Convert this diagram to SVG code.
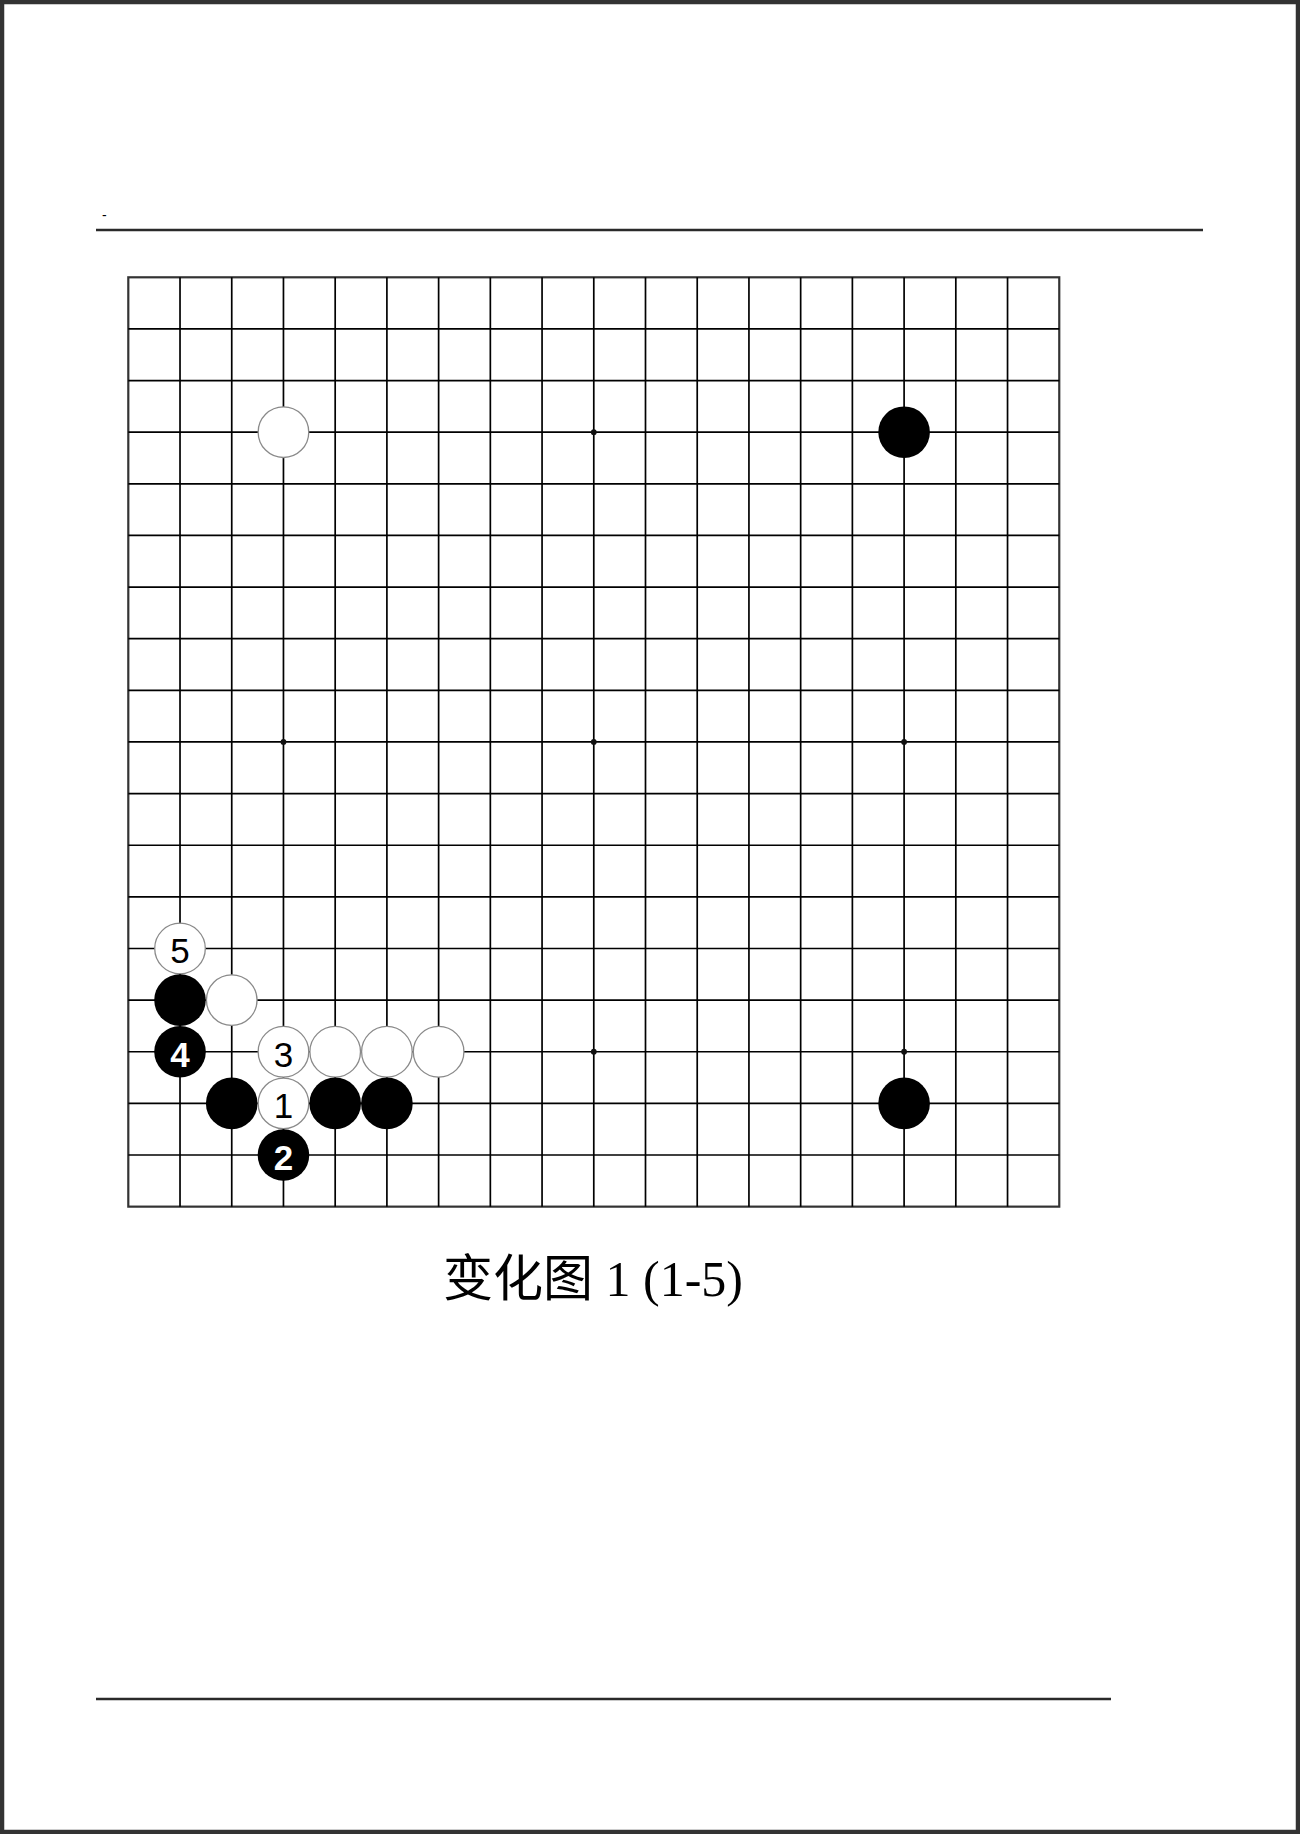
<svg xmlns="http://www.w3.org/2000/svg" width="1300" height="1834" viewBox="0 0 1300 1834">
<style>
.g{stroke:#000;stroke-width:1.7;fill:none}
.ob{stroke:#333;stroke-width:2.2;fill:none}
.star{fill:#111}
.b{fill:#000}
.w{fill:#fff;stroke:#8a8a8a;stroke-width:1.3}
.nw{font-family:"Liberation Sans",Arial,sans-serif;font-size:35px;fill:#000;text-anchor:middle}
.nb{font-family:"Liberation Sans",Arial,sans-serif;font-size:35px;font-weight:bold;fill:#fff;text-anchor:middle}
.rule{stroke:#2a2a2a;stroke-width:2.6}
</style>
<rect x="0" y="0" width="1300" height="1834" fill="#fff"/>
<rect x="2" y="2" width="1296" height="1830" fill="none" stroke="#333" stroke-width="4.5"/>
<text x="102" y="220" font-family="Liberation Sans,sans-serif" font-size="14" fill="#000">-</text>
<line class="rule" x1="96" y1="230" x2="1203" y2="230"/>
<line class="rule" x1="96" y1="1699" x2="1111" y2="1699"/>
<g id="board">
<rect class="ob" x="128.3" y="277.3" width="930.96" height="929.34"/>
<g class="g">
<line x1="180.02" y1="277.3" x2="180.02" y2="1206.64"/>
<line x1="231.74" y1="277.3" x2="231.74" y2="1206.64"/>
<line x1="283.46" y1="277.3" x2="283.46" y2="1206.64"/>
<line x1="335.18" y1="277.3" x2="335.18" y2="1206.64"/>
<line x1="386.9" y1="277.3" x2="386.9" y2="1206.64"/>
<line x1="438.62" y1="277.3" x2="438.62" y2="1206.64"/>
<line x1="490.34" y1="277.3" x2="490.34" y2="1206.64"/>
<line x1="542.06" y1="277.3" x2="542.06" y2="1206.64"/>
<line x1="593.78" y1="277.3" x2="593.78" y2="1206.64"/>
<line x1="645.5" y1="277.3" x2="645.5" y2="1206.64"/>
<line x1="697.22" y1="277.3" x2="697.22" y2="1206.64"/>
<line x1="748.94" y1="277.3" x2="748.94" y2="1206.64"/>
<line x1="800.66" y1="277.3" x2="800.66" y2="1206.64"/>
<line x1="852.38" y1="277.3" x2="852.38" y2="1206.64"/>
<line x1="904.1" y1="277.3" x2="904.1" y2="1206.64"/>
<line x1="955.82" y1="277.3" x2="955.82" y2="1206.64"/>
<line x1="1007.54" y1="277.3" x2="1007.54" y2="1206.64"/>
<line x1="128.3" y1="328.93" x2="1059.26" y2="328.93"/>
<line x1="128.3" y1="380.56" x2="1059.26" y2="380.56"/>
<line x1="128.3" y1="432.19" x2="1059.26" y2="432.19"/>
<line x1="128.3" y1="483.82" x2="1059.26" y2="483.82"/>
<line x1="128.3" y1="535.45" x2="1059.26" y2="535.45"/>
<line x1="128.3" y1="587.08" x2="1059.26" y2="587.08"/>
<line x1="128.3" y1="638.71" x2="1059.26" y2="638.71"/>
<line x1="128.3" y1="690.34" x2="1059.26" y2="690.34"/>
<line x1="128.3" y1="741.97" x2="1059.26" y2="741.97"/>
<line x1="128.3" y1="793.6" x2="1059.26" y2="793.6"/>
<line x1="128.3" y1="845.23" x2="1059.26" y2="845.23"/>
<line x1="128.3" y1="896.86" x2="1059.26" y2="896.86"/>
<line x1="128.3" y1="948.49" x2="1059.26" y2="948.49"/>
<line x1="128.3" y1="1000.12" x2="1059.26" y2="1000.12"/>
<line x1="128.3" y1="1051.75" x2="1059.26" y2="1051.75"/>
<line x1="128.3" y1="1103.38" x2="1059.26" y2="1103.38"/>
<line x1="128.3" y1="1155.01" x2="1059.26" y2="1155.01"/>
</g>
<g id="stars" class="star">
<circle cx="283.46" cy="432.19" r="2.9"/>
<circle cx="593.78" cy="432.19" r="2.9"/>
<circle cx="904.1" cy="432.19" r="2.9"/>
<circle cx="283.46" cy="741.97" r="2.9"/>
<circle cx="593.78" cy="741.97" r="2.9"/>
<circle cx="904.1" cy="741.97" r="2.9"/>
<circle cx="283.46" cy="1051.75" r="2.9"/>
<circle cx="593.78" cy="1051.75" r="2.9"/>
<circle cx="904.1" cy="1051.75" r="2.9"/>
</g>
</g>
<g id="connectors"></g>
<g id="w-d16"><circle class="w" cx="283.46" cy="432.19" r="25.3"/></g>
<g id="b-q16"><circle class="b" cx="904.1" cy="432.19" r="25.8"/></g>
<g id="b-q3"><circle class="b" cx="904.1" cy="1103.38" r="25.8"/></g>
<g id="w-5"><circle class="w" cx="180.02" cy="948.49" r="25.3"/><text class="nw" x="180.02" y="963">5</text></g>
<g id="b-b5"><circle class="b" cx="180.02" cy="1000.12" r="25.8"/></g>
<g id="w-c5"><circle class="w" cx="231.74" cy="1000.12" r="25.3"/></g>
<g id="b-4"><circle class="b" cx="180.02" cy="1051.75" r="25.8"/><text class="nb" x="180.02" y="1066.5">4</text></g>
<g id="w-3"><circle class="w" cx="283.46" cy="1051.75" r="25.3"/><text class="nw" x="283.46" y="1066.5">3</text></g>
<g id="w-e4"><circle class="w" cx="335.18" cy="1051.75" r="25.3"/></g>
<g id="w-f4"><circle class="w" cx="386.9" cy="1051.75" r="25.3"/></g>
<g id="w-g4"><circle class="w" cx="438.62" cy="1051.75" r="25.3"/></g>
<g id="b-c3"><circle class="b" cx="231.74" cy="1103.38" r="25.8"/></g>
<g id="w-1"><circle class="w" cx="283.46" cy="1103.38" r="25.3"/><text class="nw" x="283.46" y="1118">1</text></g>
<g id="b-e3"><circle class="b" cx="335.18" cy="1103.38" r="25.8"/></g>
<g id="b-f3"><circle class="b" cx="386.9" cy="1103.38" r="25.8"/></g>
<g id="b-2"><circle class="b" cx="283.46" cy="1155.01" r="25.8"/><text class="nb" x="283.46" y="1169.5">2</text></g>
<text id="caption" x="593" y="1296" font-family="'Liberation Serif','Noto Sans CJK SC',serif" font-size="50" fill="#000" text-anchor="middle">变化图 1 (1-5)</text>
</svg>
